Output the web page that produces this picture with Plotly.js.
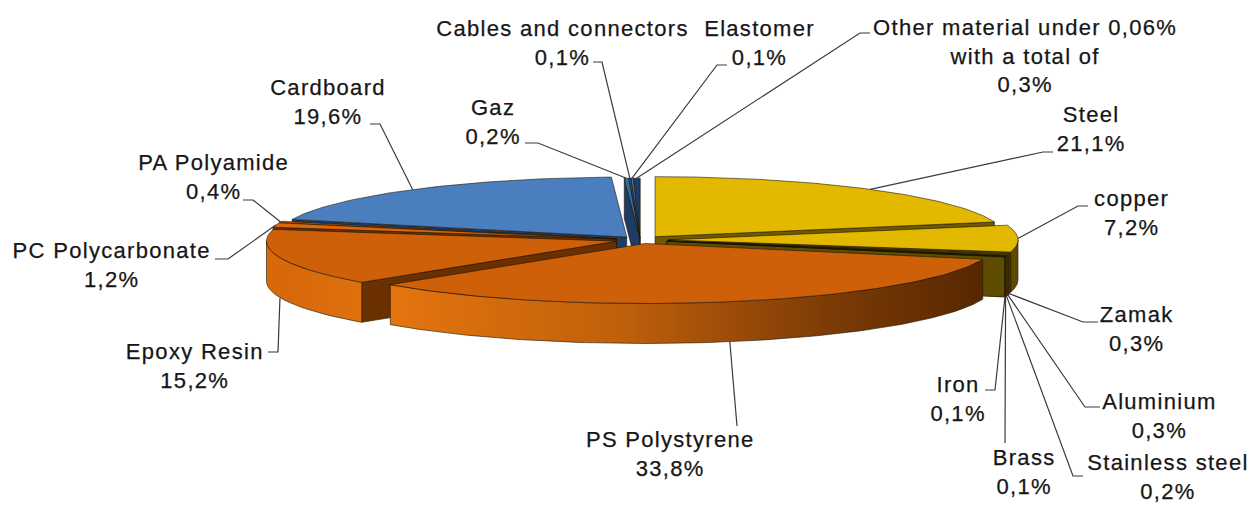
<!DOCTYPE html>
<html><head><meta charset="utf-8">
<script src="https://cdn.plot.ly/plotly-3.0.1.min.js"></script>
<style>
html,body{margin:0;padding:0;background:#fff;}
#chart text.annotation-text{letter-spacing:1.3px; stroke:#161616; stroke-width:0.25px;}
</style>
</head><body>
<div id="chart" style="width:1252px;height:506px"></div>
<script>
// ---- data ----
const categories = ['Steel','copper','Zamak','Aluminium','Stainless steel','Brass','Iron',
  'PS Polystyrene','Epoxy Resin','PC Polycarbonate','PA Polyamide','Cardboard','Gaz',
  'Cables and connectors','Elastomer','Other material under 0,06%<br>with a total of'];
const values = [21.1, 7.2, 0.3, 0.3, 0.2, 0.1, 0.1, 33.8, 15.2, 1.2, 0.4, 19.6, 0.2, 0.1, 0.1, 0.3];

// ---- styles ----
const topColors  = ['#e3b900','#e3b900','#d6ad00','#c9a300','#b89500','#a88700','#967800',
  '#cf600a','#cf600a','#d8680c','#cf600a','#4a7ebe','#3a6aa0','#2b5282','#4a7ebe','#1f3d63'];
const faceColors = ['#6f5a00','#6f5a00','#7a6300','#735d00','#6c5800','#665200','#5e4c00',
  '#6b3000','#6b3000','#6b3000','#6b3000','#1f3d63','#1f3d63','#1a3556','#1f3d63','#172e4c'];
const wallKind = ['y','y','y','y','y','y','y','o','o','o','o','b','b','b','b','b'];
const explode = [0.07,0.08,0.08,0.08,0.08,0.08,0.08,0.06,0.07,0.07,0.07,0.062,0.03,0.03,0.03,0.03];
const labelPos = [[1091,129],[1131,213],[1137,329],[1159,416],[1168,477],[1024,472],[958,399],
  [670,454],[195,366],[111,265],[213,177],[328,102],[493,122],[562,43],[759,43],[1025,56]];
const elbows = [[1043,152,1053,152],[1078,206,1088,206],[1083,322,1098,322],[1085,407,1100,407],
  [1073,476,1083,476],[1005,443,1005,443],[995,390,985,390],[737,426,737,426],[278,352,268,352],
  [228,259,215,259],[253,200,243,200],[380,124,370,124],[538,143,525,143],[602,62,593,62],
  [717,65,727,65],[860,33,870,33]];

const cx = 640, cy = 240, rx = 350, ry = 60, depth = 40;
const edge = 'rgba(30,22,5,0.75)';
const rad = d => d*Math.PI/180;
const total = values.reduce((a,b)=>a+b,0);

let ang = 90;
const slices = values.map((v,i)=>{
  const span = v/total*360;
  const a2 = ang, a1 = ang - span; ang = a1;
  const mid = (a1+a2)/2, k = explode[i];
  return {i, a1, a2, mid,
    ox: cx + k*rx*Math.cos(rad(mid)),
    oy: cy - k*ry*Math.sin(rad(mid))};
});
function P(s,a,dz){ return [s.ox + rx*Math.cos(rad(a)), s.oy - ry*Math.sin(rad(a)) + dz]; }
function arc(s,from,to,dz){
  const n = Math.max(2, Math.ceil(Math.abs(to-from)/1.2)); const pts=[];
  for(let j=0;j<=n;j++) pts.push(P(s, from+(to-from)*j/n, dz));
  return pts;
}
function poly(pts, fill, extra){
  return Object.assign({type:'scatter', mode:'lines',
    x: pts.map(p=>p[0]).concat([pts[0][0]]), y: pts.map(p=>p[1]).concat([pts[0][1]]),
    fill:'toself', fillcolor: fill, line:{color:edge, width:0.8},
    hoverinfo:'skip', showlegend:false}, extra||{});
}
const wallGrad = {
  o: {type:'horizontal', start: cx-rx, stop: cx+rx+30,
      colorscale:[[0,'#d8690b'],[0.15,'#e3740f'],[0.45,'#c0600b'],[0.75,'#7a3a05'],[1,'#4e2200']]},
  y: {type:'horizontal', start: cx-rx, stop: cx+rx+30,
      colorscale:[[0,'#8a7000'],[0.8,'#7a6200'],[1,'#5e4a00']]},
  b: {type:'horizontal', start: cx-rx, stop: cx+rx,
      colorscale:[[0,'#3a6aa0'],[1,'#1f3d63']]}
};

const order = slices.slice().sort((a,b)=>Math.sin(rad(b.mid)) - Math.sin(rad(a.mid)));
const traces = [];
order.forEach(s=>{
  const i = s.i;
  const apexT = [s.ox, s.oy], apexB = [s.ox, s.oy+depth];
  if (Math.cos(rad(s.a1)) > 0) traces.push(poly([apexT, P(s,s.a1,0), P(s,s.a1,depth), apexB], faceColors[i]));
  if (Math.cos(rad(s.a2)) < 0) traces.push(poly([apexT, P(s,s.a2,0), P(s,s.a2,depth), apexB], faceColors[i]));
  for (let n=-1;n<=1;n++){
    const lo = Math.max(s.a1, -180+360*n), hi = Math.min(s.a2, 360*n);
    if (hi > lo){
      const pts = arc(s,lo,hi,0).concat(arc(s,hi,lo,depth));
      traces.push(poly(pts, faceColors[i], {fillgradient: wallGrad[wallKind[i]]}));
    }
  }
  traces.push(poly([apexT].concat(arc(s,s.a1,s.a2,0)), topColors[i]));
});

// leader lines
slices.forEach(s=>{
  const front = Math.sin(rad(s.mid)) < 0;
  const a = P(s, s.mid, front ? depth : 0);
  const e = elbows[s.i];
  traces.push({type:'scatter', mode:'lines', x:[a[0], e[0], e[2]], y:[a[1], e[1], e[3]],
    line:{color:'#3a3a3a', width:1.2}, hoverinfo:'skip', showlegend:false});
});

const pct = v => v.toFixed(1).replace('.', ',') + '%';
const annotations = slices.map(s=>({
  x: labelPos[s.i][0], y: labelPos[s.i][1], xref:'x', yref:'y',
  text: categories[s.i] + '<br>' + pct(values[s.i]),
  showarrow:false, xanchor:'center', yanchor:'middle', align:'center',
  font:{family:'Liberation Sans, Arial, sans-serif', size:22, color:'#161616'}
}));

Plotly.newPlot('chart', traces, {
  width:1252, height:506, margin:{l:0,r:0,t:0,b:0},
  paper_bgcolor:'#ffffff', plot_bgcolor:'#ffffff', showlegend:false,
  xaxis:{range:[0,1252], visible:false, fixedrange:true},
  yaxis:{range:[506,0], visible:false, fixedrange:true},
  annotations: annotations
}, {staticPlot:true, displayModeBar:false});
</script>
</body></html>
